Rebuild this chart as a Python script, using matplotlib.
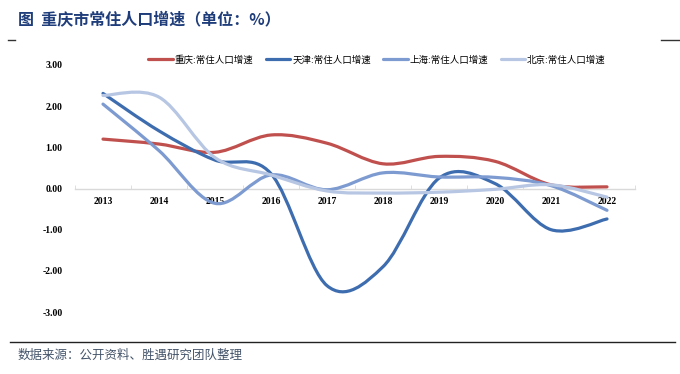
import numpy as np
import matplotlib
matplotlib.use("Agg")
import matplotlib.pyplot as plt
from matplotlib.path import Path
from matplotlib.patches import PathPatch
from matplotlib.lines import Line2D

plt.rcParams['font.family'] = ['Noto Sans CJK SC', 'DejaVu Sans']

years = ['2013', '2014', '2015', '2016', '2017', '2018', '2019', '2020', '2021', '2022']
chongqing = [1.20, 1.08, 0.88, 1.30, 1.10, 0.60, 0.78, 0.66, 0.09, 0.04]
tianjin = [2.31, 1.40, 0.69, 0.36, -2.36, -1.90, 0.25, 0.12, -1.00, -0.74]
shanghai = [2.05, 0.92, -0.36, 0.33, -0.03, 0.38, 0.28, 0.27, 0.07, -0.53]
beijing = [2.26, 2.22, 0.75, 0.33, -0.06, -0.11, -0.09, -0.02, 0.09, -0.21]

series_names = ['重庆:常住人口增速', '天津:常住人口增速', '上海:常住人口增速', '北京:常住人口增速']
colors = ['#C0504D', '#3E6DAF', '#7D9BD0', '#B7C6E3']

fig = plt.figure(figsize=(6.8, 3.74), dpi=100)
ax = fig.add_axes([75 / 680, 62 / 374, 560 / 680, 247 / 374])


def smooth_path(xs, ys):
    p = np.column_stack([xs, ys]).astype(float)
    n = len(p)
    verts = [p[0]]
    codes = [Path.MOVETO]
    for i in range(n - 1):
        pm = p[i - 1] if i > 0 else p[i]
        pp = p[i + 2] if i + 2 < n else p[i + 1]
        c1 = p[i] + (p[i + 1] - pm) / 6.0
        c2 = p[i + 1] - (pp - p[i]) / 6.0
        verts += [c1, c2, p[i + 1]]
        codes += [Path.CURVE4] * 3
    return Path(verts, codes)


x = np.arange(len(years))
handles = []
for vals, name, col in zip([chongqing, tianjin, shanghai, beijing], series_names, colors):
    patch = PathPatch(smooth_path(x, vals), facecolor='none', edgecolor=col,
                      lw=2.3, capstyle='round', joinstyle='round', zorder=3)
    ax.add_patch(patch)
    handles.append(Line2D([], [], color=col, lw=2.3, solid_capstyle='round'))

ax.set_xlim(-0.5, len(years) - 0.5)
ax.set_ylim(-3, 3)

for s in ['top', 'right', 'left']:
    ax.spines[s].set_visible(False)
ax.spines['bottom'].set_position(('data', 0))
ax.spines['bottom'].set_color('#D9D9D9')
ax.spines['bottom'].set_linewidth(1.0)

ax.set_xticks(x)
ax.set_xticklabels(years, family='Liberation Serif', fontsize=7, fontweight='bold')
ax.set_xticks(np.arange(-0.5, len(years) + 0.5, 1), minor=True)
ax.tick_params(axis='x', which='major', length=0, pad=6)
ax.tick_params(axis='x', which='minor', length=3, direction='in', color='#D9D9D9')

yt = [3, 2, 1, 0, -1, -2, -3]
ax.set_yticks(yt)
ax.set_yticklabels(['%.2f' % v for v in yt], family='Liberation Serif', fontsize=7, fontweight='bold')
ax.tick_params(axis='y', length=0, pad=9)

fig.legend(handles, series_names, loc='center', bbox_to_anchor=(377 / 680, 1 - 60 / 374),
           ncol=4, frameon=False, handlelength=2.6, handletextpad=0.2,
           columnspacing=1.3, prop={'family': ['Noto Sans CJK SC', 'DejaVu Sans'], 'size': 6.8})

fig.text(18 / 680, 1 - 20 / 374, '图  重庆市常住人口增速（单位：%）', fontsize=11.5,
         fontweight='bold', color='#1F3D7A', va='center', ha='left')

fig.add_artist(Line2D([8 / 680, 15 / 680], [1 - 40 / 374, 1 - 40 / 374], color='#333333', lw=1))
fig.add_artist(Line2D([661 / 680, 680 / 680], [1 - 40 / 374, 1 - 40 / 374], color='#333333', lw=1))
fig.add_artist(Line2D([10 / 680, 675 / 680], [1 - 342 / 374, 1 - 342 / 374], color='#222222', lw=1))

fig.text(18 / 680, 1 - 355 / 374, '数据来源：公开资料、胜遇研究团队整理', fontsize=9,
         color='#44546A', va='center', ha='left')

fig.savefig('out.png', dpi=100)
